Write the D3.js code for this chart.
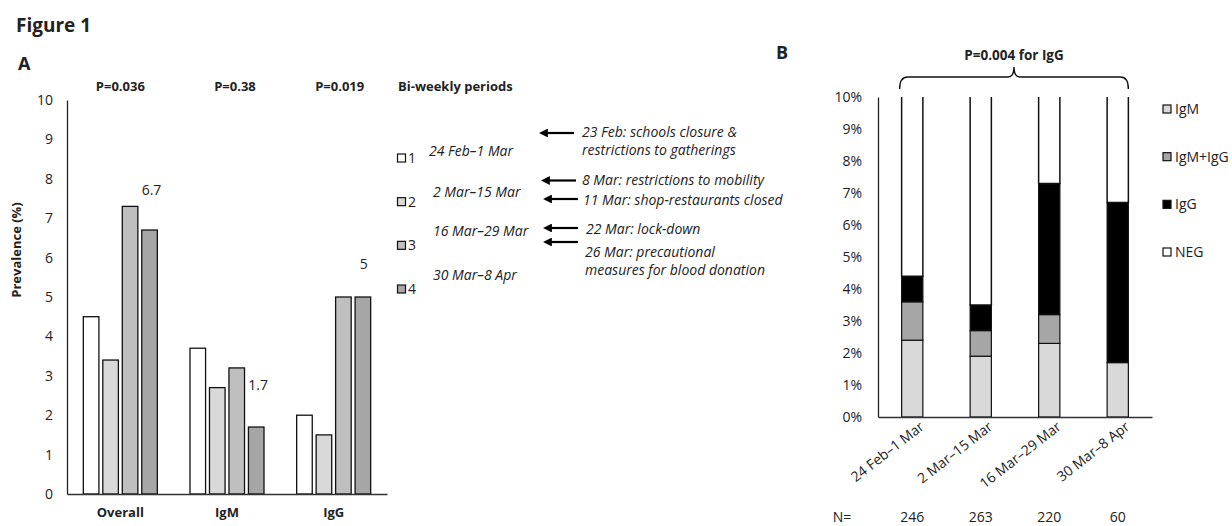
<!DOCTYPE html>
<html>
<head>
<meta charset="utf-8">
<script src="https://cdn.jsdelivr.net/npm/d3@7"></script>
<style>
  body { margin: 0; background: #fff; }
  svg text { font-family: "Open Sans", Lato, sans-serif; fill: #222; }
</style>
</head>
<body>
<div id="chart"></div>
<script>
// panel A data
var groups = ["Overall", "IgM", "IgG"];
var periods = ["1", "2", "3", "4"];
var periodNames = ["24 Feb\u20131 Mar", "2 Mar\u201315 Mar", "16 Mar\u201329 Mar", "30 Mar\u20138 Apr"];
var overallVals = [4.5, 3.4, 7.3, 6.7];
var igmVals = [3.7, 2.7, 3.2, 1.7];
var iggVals = [2.0, 1.5, 5.0, 5.0];
var pValues = ["P=0.036", "P=0.38", "P=0.019"];
var yTicksA = [0, 1, 2, 3, 4, 5, 6, 7, 8, 9, 10];

// panel B data
var stackKeys = ["IgM", "IgM+IgG", "IgG", "NEG"];
var bIgM = [2.4, 1.9, 2.3, 1.7];
var bIgMIgG = [1.2, 0.8, 0.9, 0.0];
var bIgG = [0.8, 0.8, 4.1, 5.0];
var nCounts = [246, 263, 220, 60];

var events = [
    ["23 Feb: schools closure &", "restrictions to gatherings"],
    ["8 Mar: restrictions to mobility"],
    ["11 Mar: shop-restaurants closed"],
    ["22 Mar: lock-down"],
    ["26 Mar: precautional", "measures for blood donation"]
];

var periodColors = ["#ffffff", "#d9d9d9", "#bfbfbf", "#a6a6a6"];
var stackColors = ["#d9d9d9", "#a6a6a6", "#000000", "#ffffff"];

var FS = "14px";   // regular / italic text
var FB = "13px";   // bold text

var width = 1232, height = 526;
var svg = d3.select("#chart").append("svg")
    .attr("width", width)
    .attr("height", height);

svg.append("defs").append("marker")
    .attr("id", "arrow")
    .attr("viewBox", "0 0 10 10")
    .attr("refX", 1).attr("refY", 5)
    .attr("markerWidth", 4).attr("markerHeight", 4)
    .attr("orient", "auto-start-reverse")
    .append("path").attr("d", "M0,0 L10,5 L0,10 z").attr("fill", "#000");

svg.append("text").attr("x", 16).attr("y", 32)
    .style("font-size", "19px").style("font-weight", "bold").text("Figure 1");
svg.append("text").attr("x", 18).attr("y", 70)
    .style("font-size", "18px").style("font-weight", "bold").text("A");
svg.append("text").attr("x", 776).attr("y", 59)
    .style("font-size", "18px").style("font-weight", "bold").text("B");

// ---------- panel A ----------
var valsByGroup = [overallVals, igmVals, iggVals];
var x0 = d3.scaleBand().domain(groups).range([67, 387]);
var x1 = d3.scaleBand().domain(periods).range([0, 74]).paddingInner(0.2);
var off = (x0.bandwidth() - 74) / 2;
var yA = d3.scaleLinear().domain([0, 10]).range([494, 100]);

var gA = svg.append("g");

gA.append("g")
    .attr("transform", "translate(67,0)")
    .call(d3.axisLeft(yA).tickValues(yTicksA).tickSize(0).tickPadding(14))
    .call(function(g) {
        g.select(".domain").attr("stroke", "#222").attr("stroke-width", 1.3);
        g.selectAll("text").style("font-size", FS).style("font-family", "'Open Sans', sans-serif").attr("fill", "#222");
    });

var grp = gA.selectAll(".grp")
    .data(groups)
    .enter().append("g")
    .attr("transform", function(d) { return "translate(" + (x0(d) + off) + ",0)"; });

grp.selectAll("rect")
    .data(function(d, i) { return valsByGroup[i].map(function(v, j) { return { p: periods[j], v: v, j: j }; }); })
    .enter().append("rect")
    .attr("x", function(d) { return x1(d.p); })
    .attr("y", function(d) { return yA(d.v); })
    .attr("width", x1.bandwidth())
    .attr("height", function(d) { return yA(0) - yA(d.v); })
    .attr("fill", function(d) { return periodColors[d.j]; })
    .attr("stroke", "#111")
    .attr("stroke-width", 1.3);

gA.append("g")
    .attr("transform", "translate(0,494)")
    .call(d3.axisBottom(x0).tickSize(0).tickPadding(14))
    .call(function(g) {
        g.select(".domain").attr("stroke", "#333").attr("stroke-width", 1.3);
        g.selectAll("text").style("font-size", FB).style("font-weight", "bold")
            .style("font-family", "'Open Sans', sans-serif").attr("fill", "#222");
    });

// value labels
var valLabels = [
    { g: 0, j: 3, v: overallVals[3], dx: 2, dy: -35 },
    { g: 1, j: 3, v: igmVals[3], dx: 2, dy: -37 },
    { g: 2, j: 3, v: iggVals[3], dx: 1, dy: -28 }
];
gA.selectAll(".vl")
    .data(valLabels)
    .enter().append("text")
    .attr("x", function(d) { return x0(groups[d.g]) + off + x1(periods[d.j]) + x1.bandwidth() / 2 + d.dx; })
    .attr("y", function(d) { return yA(d.v) + d.dy; })
    .attr("text-anchor", "middle")
    .style("font-size", FS)
    .text(function(d) { return String(d.v); });

// p values
var pShift = [0, 8, 6];
gA.selectAll(".pv")
    .data(pValues)
    .enter().append("text")
    .attr("x", function(d, i) { return x0(groups[i]) + x0.bandwidth() / 2 + pShift[i]; })
    .attr("y", 91)
    .attr("text-anchor", "middle")
    .style("font-size", FB).style("font-weight", "bold")
    .text(function(d) { return d; });

// y title
gA.append("text")
    .attr("transform", "translate(21,250) rotate(-90)")
    .attr("text-anchor", "middle")
    .style("font-size", FB).style("font-weight", "bold")
    .text("Prevalence (%)");

// legend for periods
var legA = svg.append("g");
legA.append("text").attr("x", 398).attr("y", 91)
    .style("font-size", FB).style("font-weight", "bold").text("Bi-weekly periods");
var legY = d3.scalePoint().domain(periods).range([158, 289]);
var li = legA.selectAll(".li").data(periods).enter().append("g");
li.append("rect")
    .attr("x", 397.5).attr("y", function(d) { return legY(d) - 4; })
    .attr("width", 8).attr("height", 8)
    .attr("fill", function(d, i) { return periodColors[i]; })
    .attr("stroke", "#111").attr("stroke-width", 1.2);
li.append("text")
    .attr("x", 408).attr("y", function(d) { return legY(d) + 5; })
    .style("font-size", FS).text(function(d) { return d; });

var dateY = [151, 192, 231, 275];
var dateX = [429, 433, 433, 433];
legA.selectAll(".dt").data(periodNames).enter().append("text")
    .attr("x", function(d, i) { return dateX[i]; })
    .attr("y", function(d, i) { return dateY[i] + 5; })
    .style("font-size", FS).style("font-style", "italic")
    .text(function(d) { return d; });

// event arrows and notes
var arrowY = [133, 180.5, 199, 228, 242];
var arrowX = [542, 544, 546, 546, 546];
legA.selectAll(".ar").data(arrowY).enter().append("line")
    .attr("x1", function(d, i) { return arrowX[i] + 32; })
    .attr("x2", function(d, i) { return arrowX[i] + 5; })
    .attr("y1", function(d) { return d; })
    .attr("y2", function(d) { return d; })
    .attr("stroke", "#000").attr("stroke-width", 2.2)
    .attr("marker-end", "url(#arrow)");

var noteX = [582, 582, 583, 586, 585];
var noteY = [132, 180, 200, 229, 252];
var notes = legA.selectAll(".nt").data(events).enter().append("text")
    .attr("x", function(d, i) { return noteX[i]; })
    .attr("y", function(d, i) { return noteY[i] + 5; })
    .style("font-size", FS).style("font-style", "italic");
notes.selectAll("tspan").data(function(d) { return d; }).enter().append("tspan")
    .attr("x", function() { return this.parentNode.getAttribute("x"); })
    .attr("dy", function(d, i) { return i === 0 ? 0 : 17.8; })
    .text(function(d) { return d; });

// ---------- panel B ----------
var xB = d3.scaleBand().domain(periodNames).range([878, 1152]).paddingInner(0.69).paddingOuter(0.345);
var yB = d3.scaleLinear().domain([0, 10]).range([417, 97]);

var rows = periodNames.map(function(p, i) {
    var neg = 10 - bIgM[i] - bIgMIgG[i] - bIgG[i];
    return { period: p, "IgM": bIgM[i], "IgM+IgG": bIgMIgG[i], "IgG": bIgG[i], "NEG": neg };
});
var series = d3.stack().keys(stackKeys)(rows);

var gB = svg.append("g");

gB.append("g")
    .attr("transform", "translate(878,0)")
    .call(d3.axisLeft(yB).ticks(10).tickFormat(function(d) { return d + "%"; }).tickSize(0).tickPadding(16))
    .call(function(g) {
        g.select(".domain").attr("stroke", "#222").attr("stroke-width", 1.3);
        g.selectAll("text").style("font-size", FS).style("font-family", "'Open Sans', sans-serif").attr("fill", "#222");
    });

var layers = gB.selectAll(".layer").data(series).enter().append("g")
    .attr("fill", function(d, i) { return stackColors[i]; });

layers.filter(function(d) { return d.key !== "NEG"; })
    .selectAll("rect").data(function(d) { return d.filter(function(s) { return s[1] - s[0] > 0; }); })
    .enter().append("rect")
    .attr("x", function(d) { return xB(d.data.period); })
    .attr("y", function(d) { return yB(d[1]); })
    .attr("width", xB.bandwidth())
    .attr("height", function(d) { return yB(d[0]) - yB(d[1]); })
    .attr("stroke", "#111").attr("stroke-width", 1.2);

// NEG segment: open at the top
var negLayer = layers.filter(function(d) { return d.key === "NEG"; });
negLayer.selectAll("path").data(function(d) { return d; }).enter().append("path")
    .attr("d", function(d) {
        var xa = xB(d.data.period), xb = xa + xB.bandwidth();
        return "M" + xa + "," + yB(d[1]) + "V" + yB(d[0]) + "H" + xb + "V" + yB(d[1]);
    })
    .attr("stroke", "#111").attr("stroke-width", 1.5);

gB.append("g")
    .attr("transform", "translate(0,417)")
    .call(d3.axisBottom(xB).tickSize(0).tickPadding(6))
    .call(function(g) {
        g.select(".domain").attr("stroke", "#333").attr("stroke-width", 1.3);
        g.selectAll("text")
            .style("font-size", FS).style("font-family", "'Open Sans', sans-serif").attr("fill", "#222")
            .attr("text-anchor", "end")
            .attr("dy", "0.6em")
            .attr("transform", "translate(4,0) rotate(-38)");
    });

// N row
gB.append("text").attr("x", 842).attr("y", 522).attr("text-anchor", "middle")
    .style("font-size", FS).text("N=");
gB.selectAll(".nn").data(nCounts).enter().append("text")
    .attr("x", function(d, i) { return xB(periodNames[i]) + xB.bandwidth() / 2; })
    .attr("y", 522).attr("text-anchor", "middle")
    .style("font-size", FS)
    .text(function(d) { return d; });

// brace
var bx1 = xB(periodNames[0]) - 2, bx2 = xB(periodNames[3]) + xB.bandwidth();
var bm = (bx1 + bx2) / 2;
gB.append("path")
    .attr("d", "M" + bx1 + ",89 Q" + bx1 + ",77 " + (bx1 + 8) + ",77 H" + (bm - 6) +
        " Q" + bm + ",77 " + bm + ",67 Q" + bm + ",77 " + (bm + 6) + ",77 H" + (bx2 - 8) +
        " Q" + bx2 + ",77 " + bx2 + ",89")
    .attr("fill", "none").attr("stroke", "#111").attr("stroke-width", 1.4);
gB.append("text").attr("x", bm).attr("y", 60).attr("text-anchor", "middle")
    .style("font-size", "13.5px").style("font-weight", "bold").text("P=0.004 for IgG");

// legend B
var legB = d3.scalePoint().domain(stackKeys).range([109, 252]);
var lb = svg.append("g").selectAll(".lb").data(stackKeys).enter().append("g");
lb.append("rect")
    .attr("x", 1163).attr("y", function(d) { return legB(d) - 4; })
    .attr("width", 8).attr("height", 8)
    .attr("fill", function(d, i) { return stackColors[i]; })
    .attr("stroke", "#111").attr("stroke-width", 1.2);
lb.append("text")
    .attr("x", 1175).attr("y", function(d) { return legB(d) + 5; })
    .style("font-size", FS).text(function(d) { return d; });
</script>
</body>
</html>
